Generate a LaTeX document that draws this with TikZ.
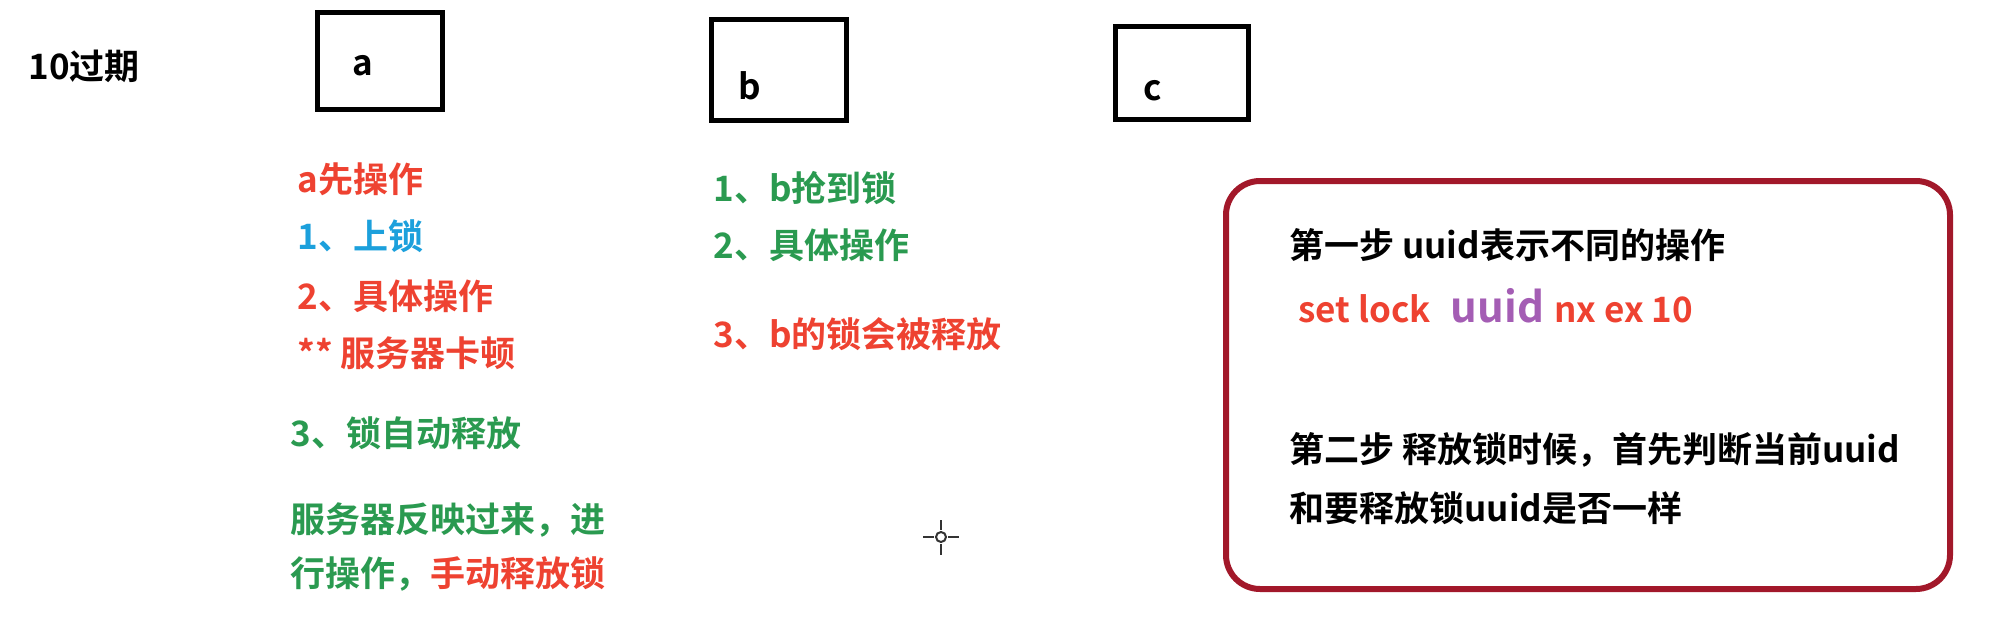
\documentclass[tikz,border=0pt]{standalone}
\usepackage{fontspec}
\setmainfont{Noto Sans CJK SC}[BoldFont={* Bold}]
\usetikzlibrary{positioning}
\definecolor{txtred}{HTML}{EE4231}
\definecolor{txtblue}{HTML}{1CA0DC}
\definecolor{txtgreen}{HTML}{2A9A50}
\definecolor{txtpurple}{HTML}{A45DB4}
\definecolor{framered}{HTML}{A2182A}

\begin{document}
\begin{tikzpicture}[x=0.5pt, y=-0.5pt,
    every node/.style={font=\fontsize{17.5}{20}\selectfont\bfseries, inner sep=0pt},
    txt/.style={anchor=west},
    box/.style={draw, line width=2.5pt}]
        \useasboundingbox (0,0) rectangle (1992,642);
        \node[txt] (title) at (28,66) {10过期};
        \node[box, minimum width=62.5pt, minimum height=48.5pt] (boxA) at (380,61) {};
        \node[box, minimum width=67.5pt, minimum height=50.5pt] (boxB) at (779,70) {};
        \node[box, minimum width=66.5pt, minimum height=46.5pt] (boxC) at (1182,73) {};
        \node (labA) at (363,66) {a};
        \node (labB) at (750,86) {b};
        \node (labC) at (1153,91) {c};
        \node[txt, txtred] (aFirst) at (297,179) {a先操作};
        \node[txt, txtblue] (aLock) at (297,236) {1、上锁};
        \node[txt, txtred] (aWork) at (297,296) {2、具体操作};
        \node[txt, txtred] (aLag) at (297,353) {** 服务器卡顿};
        \node[txt, txtgreen] (aAuto) at (290,433) {3、锁自动释放};
        \node[txt, txtgreen] (aBack) at (290,520) {服务器反映过来，进};
        \node[txt, txtgreen] (aHand) at (290,574) {行操作，\textcolor{txtred}{手动释放锁}};
        \node[txt, txtgreen] (bGet) at (713,188) {1、b抢到锁};
        \node[txt, txtgreen] (bWork) at (713,245) {2、具体操作};
        \node[txt, txtred] (bFree) at (713,334) {3、b的锁会被释放};
        \node[draw=framered, line width=3pt, rounded corners=17pt, minimum width=362pt, minimum height=204pt] (frame) at (1588,385) {};
        \node[txt] (stepOne) at (1289,245) {第一步 uuid表示不同的操作};
        \node[txt, txtred] (setCmd) at (1298,306) {set lock\hspace{10pt}\textcolor{txtpurple}{\fontsize{21}{22}\selectfont uuid}\hspace{5pt}nx ex 10};
        \node[txt] (stepTwo) at (1289,450) {第二步 释放锁时候，首先判断当前uuid};
        \node[txt] (stepTwoB) at (1289,508) {和要释放锁uuid是否一样};
        \draw[line width=1pt, black!80] (941,537) circle[radius=2.5pt];
        \draw[line width=1pt, black!80] (941,520) -- (941,530) (941,544) -- (941,555)
            (923,537) -- (934,537) (948,537) -- (959,537);
    \end{tikzpicture}
\end{document}
